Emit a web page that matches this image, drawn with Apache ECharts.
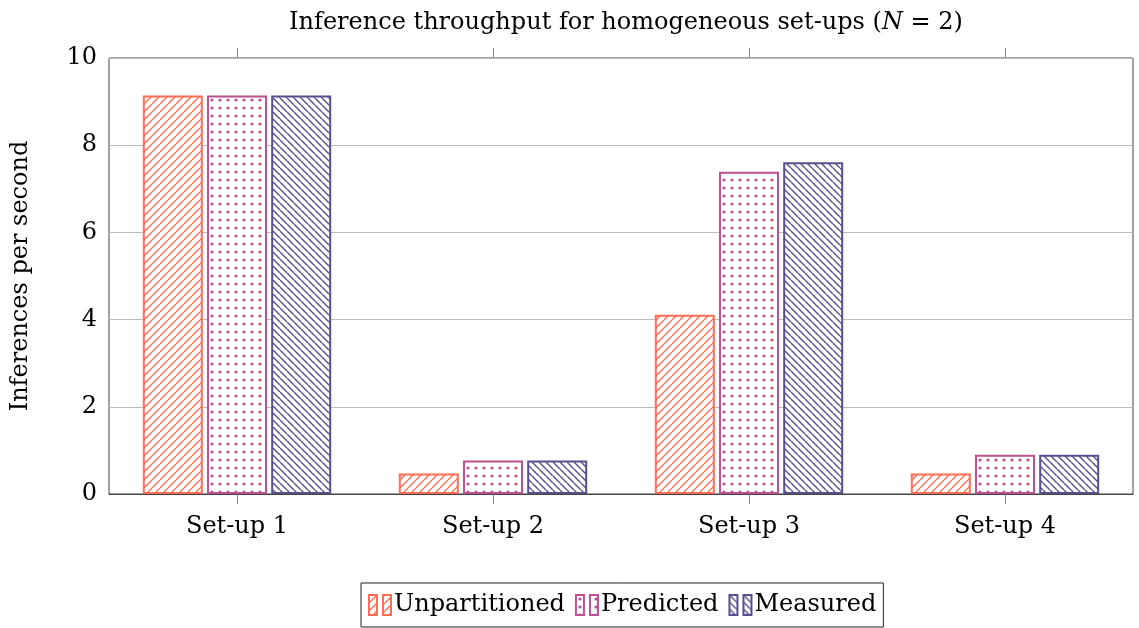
<!DOCTYPE html>
<html>
<head>
<meta charset="utf-8">
<script src="https://cdn.jsdelivr.net/npm/echarts@6/dist/echarts.min.js"></script>
<style>
    html, body { margin: 0; padding: 0; background: #fff; }
    #chart { width: 1139px; height: 628px; }
</style>
</head>
<body>
<div id="chart"></div>
<script>
    // data
    const categories = ['Set-up 1', 'Set-up 2', 'Set-up 3', 'Set-up 4'];
    const unpartitioned = [9.14, 0.47, 4.11, 0.47];
    const predicted = [9.14, 0.77, 7.39, 0.90];
    const measured = [9.14, 0.77, 7.61, 0.90];
    const yTicks = [0, 2, 4, 6, 8, 10];

    const FONT = '"DejaVu Serif", "Liberation Serif", serif';
    const FS = 24;
    const cUnp = '#ff6e54';
    const cPre = '#bc5090';
    const cMea = '#58508d';

    // hatch patterns
    function hatch(color, dir, step) {
        let c = document.createElement('canvas');
        c.width = step; c.height = step;
        let g = c.getContext('2d');
        g.fillStyle = '#fff';
        g.fillRect(0, 0, step, step);
        g.strokeStyle = color;
        g.lineWidth = 1.4;
        g.beginPath();
        for (let k = -1; k <= 1; k++) {
            if (dir > 0) {
                g.moveTo(k * step, step);
                g.lineTo(k * step + step, 0);
            } else {
                g.moveTo(k * step, 0);
                g.lineTo(k * step + step, step);
            }
        }
        g.stroke();
        return c;
    }
    function dots(color, step) {
        let c = document.createElement('canvas');
        c.width = step; c.height = step;
        let g = c.getContext('2d');
        g.fillStyle = '#fff';
        g.fillRect(0, 0, step, step);
        g.fillStyle = color;
        g.beginPath();
        g.arc(4, 4, 1.6, 0, Math.PI * 2);
        g.fill();
        return c;
    }

    const patUnp = {image: hatch(cUnp, 1, 8), repeat: 'repeat'};
    const patPre = {image: dots(cPre, 8), repeat: 'repeat'};
    const patMea = {image: hatch(cMea, -1, 7), repeat: 'repeat'};

    function bar(name, data, pat, color) {
        return {
            name: name,
            type: 'bar',
            data: data,
            barWidth: 60,
            barGap: '7%',
            itemStyle: {
                color: pat,
                borderColor: color,
                borderWidth: 2
            }
        };
    }

    let myChart = echarts.init(document.getElementById('chart'));
    let option = {
        animation: false,
        textStyle: {fontFamily: FONT},
        title: {
            text: 'Inference throughput for homogeneous set-ups ({i|N} = 2)',
            left: 621,
            textAlign: 'center',
            top: 6,
            textStyle: {
                fontFamily: FONT,
                fontWeight: 'normal',
                fontSize: FS,
                color: '#000',
                rich: {
                    i: {fontFamily: FONT, fontStyle: 'italic', fontSize: FS, color: '#000'}
                }
            }
        },
        grid: {
            left: 109,
            right: 6,
            top: 58,
            bottom: 134,
            show: true,
            borderColor: '#444',
            borderWidth: 1
        },
        legend: {
            bottom: 1,
            left: 361,
            data: ['Unpartitioned', 'Predicted', 'Measured'],
            icon: 'path://M0,0H4V10H0Z M7,0H11V10H7Z',
            itemWidth: 22,
            itemHeight: 20,
            itemGap: 10,
            padding: [10, 7],
            borderColor: '#222',
            borderWidth: 1,
            textStyle: {fontFamily: FONT, fontSize: FS, color: '#000', padding: [0, 0, 0, -2]}
        },
        xAxis: [
            {
                type: 'category',
                data: categories,
                axisLine: {show: true, lineStyle: {color: '#444'}},
                axisTick: {show: true, alignWithLabel: true, length: 10, lineStyle: {color: '#888'}},
                axisLabel: {fontFamily: FONT, fontSize: FS, color: '#000', margin: 21}
            },
            {
                type: 'category',
                position: 'top',
                data: categories,
                axisLine: {show: false},
                axisTick: {show: true, alignWithLabel: true, length: 10, lineStyle: {color: '#888'}},
                axisLabel: {show: false}
            }
        ],
        yAxis: {
            type: 'value',
            min: yTicks[0],
            max: yTicks[yTicks.length - 1],
            interval: 2,
            name: 'Inferences per second',
            nameLocation: 'middle',
            nameGap: 76,
            nameTextStyle: {fontFamily: FONT, fontSize: FS, color: '#000'},
            axisLine: {show: false},
            axisTick: {show: false},
            axisLabel: {fontFamily: FONT, fontSize: FS, color: '#000', margin: 12},
            splitLine: {show: true, lineStyle: {color: '#bdbdbd', width: 1}}
        },
        series: [
            bar('Unpartitioned', unpartitioned, patUnp, cUnp),
            bar('Predicted', predicted, patPre, cPre),
            bar('Measured', measured, patMea, cMea)
        ]
    };
    myChart.setOption(option, true);
</script>
</body>
</html>
